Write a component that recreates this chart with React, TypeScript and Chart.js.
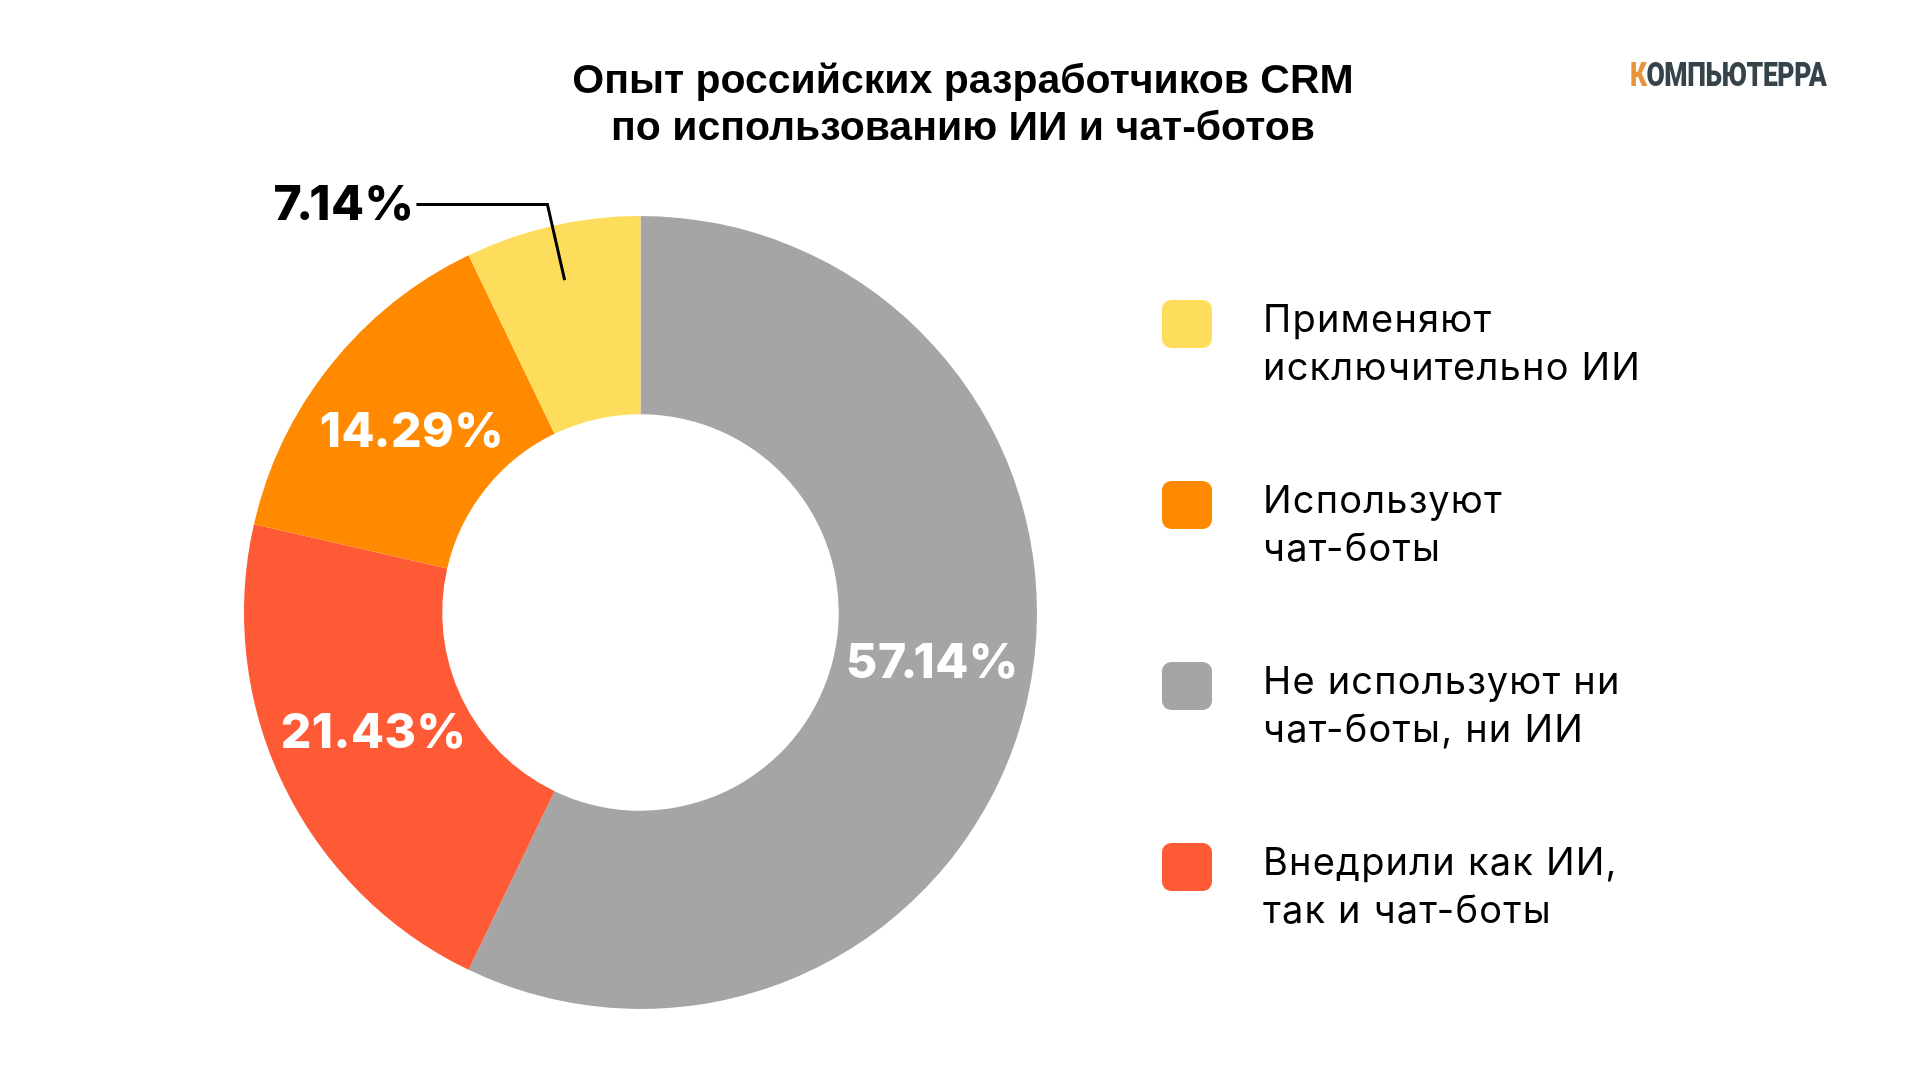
import React, { useEffect, useRef } from "react";
import { Chart, registerables } from "chart.js";

Chart.register(...registerables);

// Chart data (slices drawn clockwise from 12 o'clock)
const sliceLabels = [
  "Не используют ни чат-боты, ни ИИ",
  "Внедрили как ИИ, так и чат-боты",
  "Используют чат-боты",
  "Применяют исключительно ИИ",
];
const sliceValues = [57.14, 21.43, 14.29, 7.14];
const sliceColors = ["#A5A5A5", "#FF5A36", "#FF8A00", "#FFDD5C"];

// Legend (top to bottom) as it appears on the right
const legendLines = [
  ["Применяют", "исключительно ИИ"],
  ["Используют", "чат-боты"],
  ["Не используют ни", "чат-боты, ни ИИ"],
  ["Внедрили как ИИ,", "так и чат-боты"],
];
const legendColors = ["#FFDD5C", "#FF8A00", "#A5A5A5", "#FF5A36"];

const titleLines = ["Опыт российских разработчиков CRM", "по использованию ИИ и чат-ботов"];

const labelFont = "800 48px Inter, 'DejaVu Sans', sans-serif";
// small hand nudges for the inside labels (px), same order as the slices
const labelNudge = [
  [2, -15],
  [1, -8],
  [4, 5],
  [0, 0],
];

// draws the percent labels; small slices get an outside label with a leader line
const percentLabels = {
  id: "percentLabels",
  afterDatasetsDraw(chart: any) {
    const ctx = chart.ctx;
    const meta = chart.getDatasetMeta(0);
    const values = chart.data.datasets[0].data as number[];
    ctx.save();
    ctx.font = labelFont;
    (ctx as any).letterSpacing = "0.5px";
    meta.data.forEach((arc: any, i: number) => {
      const p = arc.getProps(["x", "y", "startAngle", "endAngle", "innerRadius", "outerRadius"], true);
      const mid = (p.startAngle + p.endAngle) / 2;
      const cos = Math.cos(mid);
      const sin = Math.sin(mid);
      const text = values[i].toFixed(2) + "%";
      if (values[i] < 10) {
        const r1 = p.innerRadius + (p.outerRadius - p.innerRadius) * 0.72;
        const r2 = p.outerRadius + 22;
        const x1 = p.x + cos * r1;
        const y1 = p.y + sin * r1;
        const x2 = p.x + cos * r2;
        const y2 = p.y + sin * r2;
        const x3 = x2 - 131;
        ctx.strokeStyle = "#000";
        ctx.lineWidth = 3;
        ctx.beginPath();
        ctx.moveTo(x1, y1);
        ctx.lineTo(x2, y2);
        ctx.lineTo(x3, y2);
        ctx.stroke();
        ctx.fillStyle = "#000";
        ctx.textAlign = "right";
        ctx.textBaseline = "middle";
        ctx.fillText(text, x3 - 2, y2 + 1);
      } else {
        const r = (p.innerRadius + p.outerRadius) / 2;
        ctx.fillStyle = "#FFFFFF";
        ctx.textAlign = "center";
        ctx.textBaseline = "middle";
        ctx.fillText(text, p.x + cos * r + labelNudge[i][0], p.y + sin * r + labelNudge[i][1]);
      }
    });
    ctx.restore();
  },
};

const App: React.FC = () => {
  const canvasRef = useRef<HTMLCanvasElement>(null);
  const chartRef = useRef<Chart | null>(null);

  useEffect(() => {
    if (!canvasRef.current) return;
    if (chartRef.current) chartRef.current.destroy();

    chartRef.current = new Chart(canvasRef.current, {
      type: "doughnut",
      data: {
        labels: sliceLabels,
        datasets: [
          {
            data: sliceValues,
            backgroundColor: sliceColors,
            borderWidth: 0,
          },
        ],
      },
      options: {
        responsive: false,
        animation: false,
        devicePixelRatio: 1,
        cutout: "50%",
        layout: {
          padding: { left: 244, top: 216, right: 883, bottom: 71 },
        },
        plugins: {
          legend: { display: false },
          tooltip: { enabled: false },
          title: { display: false },
        },
      },
      plugins: [percentLabels],
    });

    return () => {
      if (chartRef.current) {
        chartRef.current.destroy();
        chartRef.current = null;
      }
    };
  }, []);

  return (
    <div
      style={{
        position: "absolute",
        left: 0,
        top: 0,
        width: 1920,
        height: 1080,
        background: "#fff",
        overflow: "hidden",
        fontFamily: "Inter, 'DejaVu Sans', sans-serif",
      }}
    >
      <canvas ref={canvasRef} width={1920} height={1080} style={{ position: "absolute", left: 0, top: 0 }} />

      {/* title */}
      <div
        style={{
          position: "absolute",
          left: 0,
          width: 1926,
          top: 56,
          textAlign: "center",
          fontFamily: "'Liberation Sans', Arial, sans-serif",
          fontWeight: 700,
          fontSize: 41,
          lineHeight: "47px",
          color: "#000",
        }}
      >
        {titleLines.map((t) => (
          <div key={t}>{t}</div>
        ))}
      </div>

      {/* logo */}
      <div
        style={{
          position: "absolute",
          left: 1630,
          top: 54,
          fontFamily: "Roboto, 'Liberation Sans', sans-serif",
          fontWeight: 900,
          fontSize: 34,
          lineHeight: "40px",
          color: "#37434B",
          transform: "scaleX(0.78)",
          transformOrigin: "left top",
          whiteSpace: "nowrap",
          letterSpacing: "-0.5px",
        }}
      >
        <span style={{ color: "#E8943A" }}>К</span>ОМПЬЮТЕРРА
      </div>

      {/* legend */}
      {legendLines.map((lines, i) => (
        <div key={i} style={{ position: "absolute", left: 1162, top: 300 + i * 181 }}>
          <div
            style={{
              position: "absolute",
              left: 0,
              top: 0,
              width: 50,
              height: 48,
              borderRadius: 9,
              background: legendColors[i],
            }}
          />
          <div
            style={{
              position: "absolute",
              left: 101,
              top: -6,
              fontSize: 38,
              letterSpacing: "1.2px",
              lineHeight: "48px",
              color: "#000",
              whiteSpace: "nowrap",
            }}
          >
            {lines.map((l) => (
              <div key={l}>{l}</div>
            ))}
          </div>
        </div>
      ))}
    </div>
  );
};

export default App;
